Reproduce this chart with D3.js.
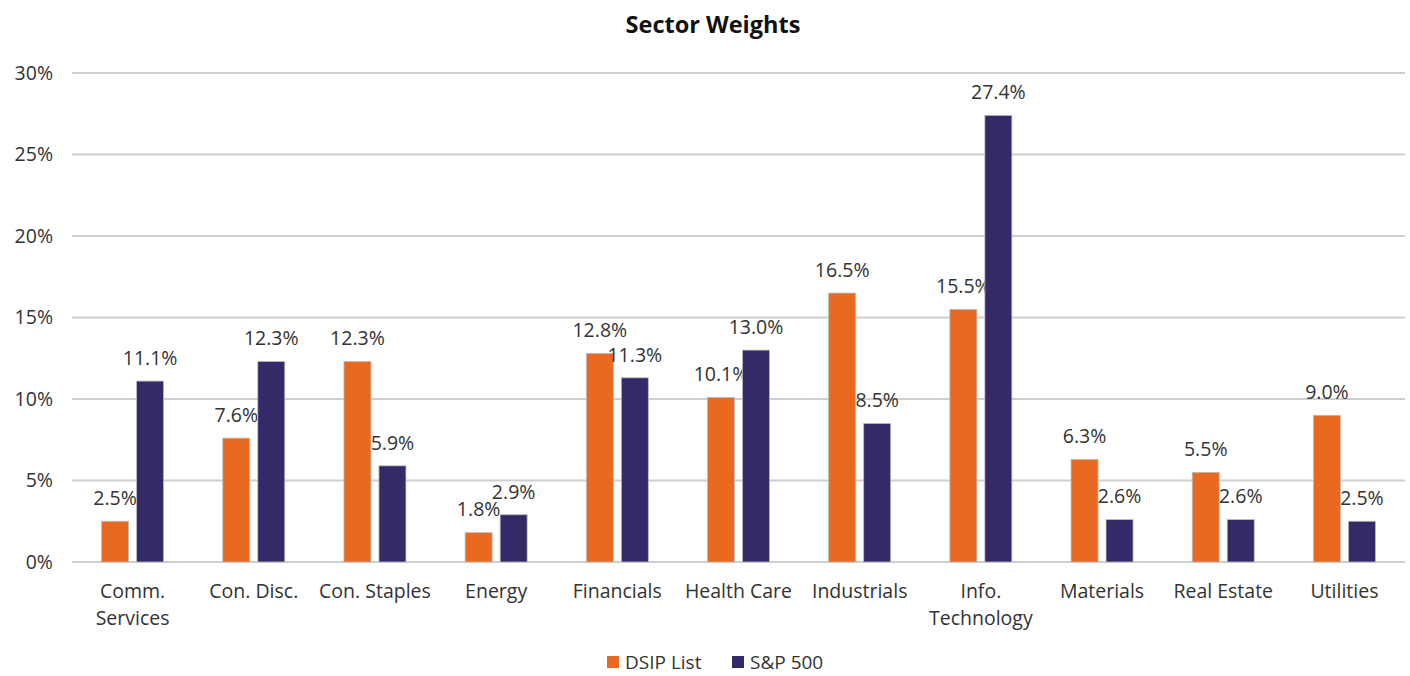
<!DOCTYPE html>
<html><head><meta charset="utf-8">
<script src="https://cdn.jsdelivr.net/npm/d3@7"></script>
<style>body{margin:0;background:#fff;} text{font-family:"Open Sans","Noto Sans",sans-serif;}</style>
</head><body>
<svg id="chart" width="1410" height="676"></svg>
<script>
const categories = ["Comm.\nServices","Con. Disc.","Con. Staples","Energy","Financials","Health Care","Industrials","Info.\nTechnology","Materials","Real Estate","Utilities"];
const seriesNames = ["DSIP List","S&P 500"];
const dsipValues = [2.5,7.6,12.3,1.8,12.8,10.1,16.5,15.5,6.3,5.5,9.0];
const spValues = [11.1,12.3,5.9,2.9,11.3,13.0,8.5,27.4,2.6,2.6,2.5];
const yTicks = [0,5,10,15,20,25,30];
const colors = ["#E8691F","#342A67"];

(function(){
const svg = d3.select("#chart");
const mLeft = 72, mRight = 1405, mTop = 73, mBottom = 562;
const x = d3.scaleBand().domain(categories).range([mLeft, mRight]).paddingInner(0).paddingOuter(0);
const y = d3.scaleLinear().domain([0,30]).range([mBottom, mTop]);
const barW = 27, gap = 8;
const fs = "19.5px";

svg.append("text").attr("x",713).attr("y",25).attr("dy","0.35em").attr("text-anchor","middle")
  .style("font-size","23.5px").style("font-weight","bold").attr("fill","#111").text("Sector Weights");

svg.append("g").selectAll("line").data(yTicks).join("line")
  .attr("x1",mLeft).attr("x2",mRight).attr("y1",d=>y(d)).attr("y2",d=>y(d))
  .attr("stroke","#cfcfcf").attr("stroke-width",2);
svg.append("g").selectAll("text").data(yTicks).join("text")
  .attr("x",53).attr("y",d=>y(d)).attr("dy","0.35em").attr("text-anchor","end")
  .style("font-size",fs).attr("fill","#333").text(d=>d+"%");

const series = [dsipValues, spValues];
series.forEach((vals, si) => {
  const g = svg.append("g");
  const xo = c => x(c) + x.bandwidth()/2 + (si===0 ? -gap/2 - barW : gap/2);
  g.selectAll("rect").data(categories).join("rect")
    .attr("x", c => xo(c)).attr("width", barW)
    .attr("y", (c,i) => y(vals[i])).attr("height", (c,i) => y(0)-y(vals[i]))
    .attr("fill", colors[si]).attr("stroke","#bdbdbd").attr("stroke-width",0.8);
  g.selectAll("text").data(categories).join("text")
    .attr("x", c => xo(c) + barW/2).attr("y", (c,i) => y(vals[i]) - 23)
    .attr("dy","0.35em").attr("text-anchor","middle")
    .style("font-size",fs).attr("fill","#333").text((c,i) => vals[i].toFixed(1)+"%");
});

const cl = svg.append("g").selectAll("text").data(categories).join("text")
  .attr("x", c => x(c) + x.bandwidth()/2).attr("y", 591)
  .attr("text-anchor","middle").style("font-size",fs).attr("fill","#333");
cl.each(function(c){
  const lines = c.split("\n");
  d3.select(this).selectAll("tspan").data(lines).join("tspan")
    .attr("x", x(c) + x.bandwidth()/2).attr("dy",(d,i)=> i===0 ? "0.35em" : "27px").text(d=>d);
});

const legend = [{n:seriesNames[0],c:colors[0],x:607},{n:seriesNames[1],c:colors[1],x:732}];
const lg = svg.append("g");
legend.forEach(l => {
  lg.append("rect").attr("x",l.x).attr("y",656).attr("width",12).attr("height",12).attr("fill",l.c);
  lg.append("text").attr("x",l.x+18).attr("y",662).attr("dy","0.35em").style("font-size","19px").attr("fill","#333").text(l.n);
});
})();
</script>
</body></html>
